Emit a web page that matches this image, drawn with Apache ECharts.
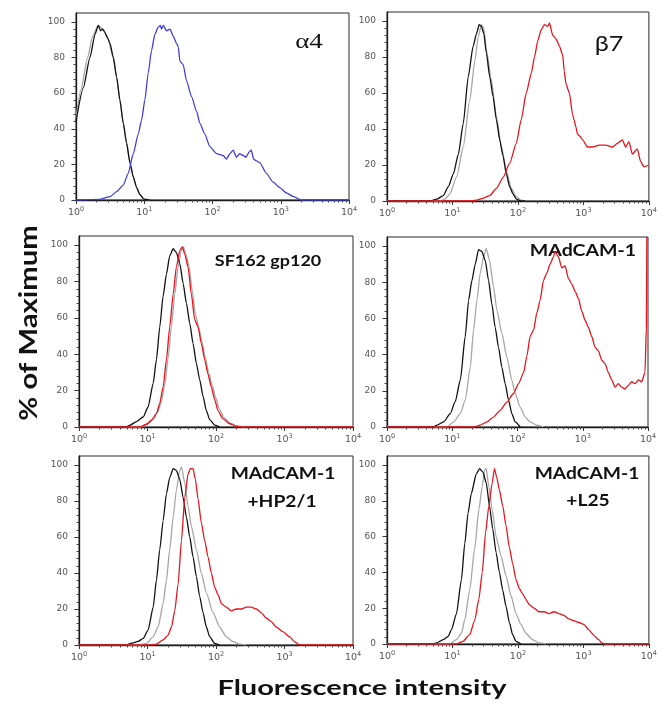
<!DOCTYPE html>
<html>
<head>
<meta charset="utf-8">
<script src="https://cdn.jsdelivr.net/npm/echarts@6/dist/echarts.min.js"></script>
<style>
  html, body { margin: 0; padding: 0; background: #ffffff; }
  #chart { width: 660px; height: 705px; }
</style>
</head>
<body>
<div id="chart"></div>
<script>
// Flow cytometry histograms: fluorescence intensity (log) vs % of maximum.
// Each curve is a list of [intensity, percent of maximum] points.

const decadeTicks = [1, 10, 100, 1000, 10000];
const minorDecadeTicks = [2, 3, 4, 5, 6, 7, 8, 9, 20, 30, 40, 50, 60, 70, 80, 90,
  200, 300, 400, 500, 600, 700, 800, 900, 2000, 3000, 4000, 5000, 6000, 7000, 8000, 9000];
const percentTicks = [0, 20, 40, 60, 80, 100];
const minorPercentTicks = [4, 8, 12, 16, 24, 28, 32, 36, 44, 48, 52, 56, 64, 68, 72, 76, 84, 88, 92, 96];

// alpha4
const a4Grey = [[1,46],[1.18,62],[1.48,80],[1.75,92],[2.12,98],[2.5,96],[2.9,91],[3.52,80],[3.94,69],[4.4,56],[4.93,43],[5.51,32],[6.17,21],[6.9,13],[7.73,7],[8.64,3],[9.9,0.5],[12,0]];
const a4Black = [[1,44],[1.28,63],[1.6,80],[1.9,93],[2.12,98],[2.3,95],[2.45,96],[2.66,94],[2.9,91],[3.15,88],[3.52,80],[3.94,69],[4.4,56],[4.93,43],[5.51,32],[6.17,21],[6.9,13],[7.73,7],[8.64,3],[9.9,0.5],[12,0]];
const a4Blue = [[1,0],[2.25,0.4],[3.15,1.9],[3.94,4.7],[4.93,8.4],[5.83,15],[6.9,26],[8.17,37],[9.14,45],[10.2,56],[11.4,71],[12.8,84],[14.3,93],[16,97],[17.2,98],[17.9,96],[19,98],[21.2,95],[23.8,96],[26.6,92],[29.7,88],[31.5,86],[33.3,78],[37.2,76],[41.6,67],[49.3,58],[58.3,50],[65.3,43],[77.3,37],[91.4,30],[115,26],[143,25],[160,23],[180,26],[201,28],[225,24],[250,26],[281,25],[310,24],[345,27],[370,28],[400,23],[440,22],[493,21],[617,15],[773,10],[967,7],[1210,4],[1515,2],[2006,0],[10000,0]];

// beta7
const b7Grey = [[1,0],[6.5,0],[7.69,1],[9.16,4],[11.6,13.5],[14.6,30],[18.4,56],[22,78],[24.7,91],[27.7,98],[30.1,96],[33,84],[39.4,67],[46.9,47],[55.8,30],[66.5,17],[79.2,7],[94.4,2.4],[112,0.5],[130,0]];
const b7Black = [[1,0],[4.55,0],[5.75,1],[7.26,3],[8.65,8],[10.3,15],[12.3,26],[14.6,43],[17.4,69],[20.7,86],[23.3,93],[25.6,98],[27.7,97],[30.1,93],[33,82],[37.1,69],[41.7,58],[46.9,45],[52.7,34],[59.2,25],[66.5,15],[74.7,8],[84,4],[94.4,1],[112,0],[130,0]];
const b7Red = [[1,0],[18.4,0],[23.3,0.5],[29.4,1.5],[37.1,3],[46.9,7],[59.2,13],[74.7,21],[94.4,32],[112,45],[134,60],[160,71],[179,80],[201,89],[226,95],[254,98],[286,97],[303,99],[340,92],[382,90],[430,86],[483,81],[510,72],[542,65],[610,60],[685,48],[720,45],[769,41],[815,37],[880,36],[971,34],[1157,30],[1378,30],[1740,31],[2197,31],[2774,30],[3305,32],[3936,34],[4425,30],[4968,33],[5586,26],[6653,29],[7470,22],[8400,19],[10000,20]];

// SF162 gp120
const gpGrey = [[1,0],[8,0],[10,1.5],[12,4],[14,8],[16,14],[18,24],[20,38],[22.5,56],[25,73],[28,88],[31,97],[33.5,99],[36.5,95],[40.5,88],[45,75],[50,62],[56,55],[62,47],[70,38],[78,30],[88,23],[99,16],[112,10],[132,5],[165,2],[205,0.5],[260,0]];
const gpBlack = [[1,0],[4.94,0],[5.53,1],[6.92,3],[8.65,5.5],[10.2,11],[12.1,24],[13.5,37],[15.1,55],[16.9,72],[18.9,84],[21.1,94],[23.7,98],[26.4,96],[29.6,90],[33.1,79],[37,68],[41.4,57],[46.2,46],[51.7,35],[57.8,26],[64.7,17],[72.3,9],[80.9,4],[95.7,1],[113,0]];
const gpRed = [[1,0],[7.73,0],[9.67,1.5],[11.4,3.7],[13.5,7.3],[15.1,13],[16.9,22],[18.9,37],[21.1,55],[23.7,73],[26.4,88],[29.6,97],[32.3,99],[35,95],[39.1,88],[43.7,73],[48.9,59],[54.7,55],[61.1,46],[68.4,37],[76.4,29],[85.5,22],[95.7,15],[107,9],[126,4.6],[158,1.8],[198,0.4],[247,0],[10000,0]];

// MAdCAM-1
const madGrey = [[1,0],[8.28,0],[10.5,2.8],[13.3,7.4],[15.8,14.8],[18.9,33],[21.2,53.5],[23.9,70],[26.8,85],[30.2,94],[33.1,98.7],[37.3,92],[42.9,77.5],[48.3,64.6],[57.6,51.7],[68.7,38.7],[81.9,25.8],[92.1,18.5],[110,11],[131,5.5],[156,2.8],[198,1],[250,0]];
const madBlack = [[1,0],[5.18,0],[5.83,1],[7.37,2.8],[9.32,7.4],[11.1,14],[13.3,26],[15.8,50],[17.8,70],[20,81],[22.5,90],[25.3,98],[28.4,97],[32,92],[36,81],[40.5,68],[45.5,55],[51.2,44],[57.6,33],[64.7,24],[72.8,15],[81.9,7.4],[92.1,2.8],[110,0]];
const madRed = [[1,0],[21.2,0],[26.8,1],[33.9,2.8],[42.9,5.5],[54.3,9.2],[68.7,13.8],[86.8,18.5],[104,24],[124,30],[139,39],[156,50],[176,53.5],[198,63],[222,70],[250,81],[281,85],[316,90],[356,94],[377,97],[424,94],[477,88],[537,89],[604,82],[679,79],[764,75],[859,71],[966,64],[1086,59],[1222,55],[1374,50],[1545,44],[1738,42],[1954,37],[2197,35],[2471,30],[2779,26],[3125,22],[3514,24],[3953,22],[4445,21],[4998,23],[5621,25],[6321,24],[7109,26],[7995,25],[8991,30],[9450,55],[9600,105]];

// MAdCAM-1 + HP2/1
const hpGrey = [[1,0],[7.73,0],[9.67,0.9],[12.1,4.6],[14.3,10],[16.9,23],[18.9,36],[21.1,53],[23.7,71],[26.4,86],[29.6,97],[31.3,99],[35,90],[39.1,77],[43.7,66],[51.7,53],[61.1,40],[72.3,29],[90.4,18],[113,10],[141,4.6],[177,1.9],[221,0.5],[277,0]];
const hpBlack = [[1,0],[4.94,0],[5.85,1],[7.31,2],[8.65,3.7],[10.2,8.3],[12.1,21],[13.5,36],[15.1,53],[16.9,69],[18.9,84],[21.1,93],[23.7,98],[26.4,97],[29.6,92],[33.1,82],[37,71],[41.4,60],[46.2,49],[51.7,38],[57.8,27],[64.7,18],[72.3,10],[80.9,4.6],[95.7,0.9],[113,0]];
const hpRed = [[1,0],[10.8,0],[13.5,0.5],[16.9,2.8],[20,5.5],[22.4,10],[25,19],[28,34],[31.3,58],[35,82],[39.1,95],[42.3,98],[46.2,98],[50,92],[54.7,81],[61.1,68],[68.4,58],[76.4,49],[85.5,40],[95.7,32],[107,28],[120,23],[141,21],[167,19],[198,20],[234,20],[277,21],[327,21],[387,20],[457,18],[541,15],[640,13],[756,10],[946,7.4],[1183,4.6],[1399,1.9],[1653,0],[10000,0]];

// MAdCAM-1 + L25
const l25Grey = [[1,0],[9.11,0],[11.5,2.4],[13.7,6],[15.4,13.4],[18.3,30],[21.8,53],[25.3,75],[28.5,88],[30.9,97],[32.8,98],[35.9,88],[40.4,75],[46.4,60],[55.3,49],[65.8,38],[78.3,27],[93.3,17],[111,11],[132,6],[167,2.4],[210,0.6],[266,0]];
const l25Black = [[1,0],[5.09,0],[5.72,0.6],[7.22,2.4],[8.6,4.3],[9.66,8],[11.5,17],[13.7,36],[15.4,56],[17.3,73],[19.4,84],[23.1,95],[26,98],[29.2,96],[32.8,90],[36.8,77],[41.3,64],[46.4,51],[52.1,40],[58.6,30],[65.8,21],[73.9,12],[83,5.2],[93.3,1.5],[111,0]];
const l25Red = [[1,0],[11.5,0],[14.5,1.5],[18.3,5.2],[21.8,13],[25.3,25],[28.5,40],[32,62],[35.9,77],[40.4,90],[43.8,98],[47.5,93],[52.1,86],[58.6,77],[65.8,66],[73.9,54],[83,45],[93.3,36],[105,31],[118,28],[132,25],[149,22],[177,20],[210,18],[251,18],[298,17],[356,18],[423,17],[504,16],[600,14],[714,13],[849,12],[1012,11],[1205,8],[1435,5],[1708,2.4],[1919,0.6],[2154,0],[10000,0]];

const GREY = '#a6a6a6', BLACK = '#111111', RED = '#e8141c', BLUE = '#3f3fdc';

// Panel layout (pixel boxes) and the curves drawn inside each.
const panels = [
  { box: { left: 76,  top: 13,  width: 273, height: 187 }, curves: [[a4Grey, GREY], [a4Black, BLACK], [a4Blue, BLUE]] },
  { box: { left: 387, top: 12,  width: 264, height: 189 }, curves: [[b7Grey, GREY], [b7Black, BLACK], [b7Red, RED]] },
  { box: { left: 79,  top: 236, width: 274, height: 191 }, curves: [[gpGrey, GREY], [gpBlack, BLACK], [gpRed, RED]] },
  { box: { left: 387, top: 237, width: 261, height: 190 }, curves: [[madGrey, GREY], [madBlack, BLACK], [madRed, RED]] },
  { box: { left: 79,  top: 456, width: 274, height: 189 }, curves: [[hpGrey, GREY], [hpBlack, BLACK], [hpRed, RED]] },
  { box: { left: 387, top: 456, width: 264, height: 188 }, curves: [[l25Grey, GREY], [l25Black, BLACK], [l25Red, RED]] }
];

const tickFont = 'DejaVu Sans';
const grid = [], xAxis = [], yAxis = [], series = [];

panels.forEach((p, i) => {
  grid.push(Object.assign({ show: true, borderColor: '#2b2b2b', borderWidth: 1, containLabel: false }, p.box));
  // major decades with labels
  xAxis.push({
    type: 'log', logBase: 10, gridIndex: i, min: 1, max: 10000, position: 'bottom',
    axisLine: { show: true, onZero: false, lineStyle: { color: '#1a1a1a', width: 1.3 } },
    axisTick: { show: true, length: 4, customValues: decadeTicks, lineStyle: { color: '#333' } },
    minorTick: { show: false },
    splitLine: { show: false },
    axisLabel: {
      show: true, margin: 6, customValues: decadeTicks,
      formatter: v => '{b|10}{s|' + Math.round(Math.log10(v)) + '}',
      rich: {
        b: { fontSize: 9.5, fontFamily: tickFont, color: '#555', lineHeight: 13 },
        s: { fontSize: 6.5, fontFamily: tickFont, color: '#555', lineHeight: 7, verticalAlign: 'top' }
      }
    }
  });
  // minor ticks inside each decade
  xAxis.push({
    type: 'log', logBase: 10, gridIndex: i, min: 1, max: 10000, position: 'bottom', offset: 0,
    axisLine: { show: false, onZero: false },
    axisTick: { show: true, length: 2.5, customValues: minorDecadeTicks, lineStyle: { color: '#444' } },
    splitLine: { show: false },
    axisLabel: { show: false }
  });
  yAxis.push({
    type: 'value', gridIndex: i, min: 0, max: 105, position: 'left',
    axisLine: { show: true, onZero: false, lineStyle: { color: '#1a1a1a', width: 1.3 } },
    axisTick: { show: true, length: 4.5, customValues: percentTicks, lineStyle: { color: '#333' } },
    splitLine: { show: false },
    axisLabel: { show: true, margin: 11, customValues: percentTicks, fontSize: 9, fontFamily: tickFont, color: '#555' }
  });
  yAxis.push({
    type: 'value', gridIndex: i, min: 0, max: 105, position: 'left', offset: 0,
    axisLine: { show: false, onZero: false },
    axisTick: { show: true, length: 2.5, customValues: minorPercentTicks, lineStyle: { color: '#444' } },
    splitLine: { show: false },
    axisLabel: { show: false }
  });
  p.curves.forEach(([data, color]) => {
    series.push({
      type: 'line', xAxisIndex: 2 * i, yAxisIndex: 2 * i, data: data,
      showSymbol: false, symbol: 'none', smooth: 0.2, smoothMonotone: 'x',
      lineStyle: { color: color, width: 1.3 }, silent: true, animation: false
    });
  });
});

const boldFont = 'Lato';
function label(text, x, y, size, opts) {
  return Object.assign({
    type: 'text', x: x, y: y, silent: true,
    style: { text: text, fill: '#111', fontSize: size, fontFamily: boldFont, fontWeight: 'bold', align: 'center', verticalAlign: 'middle' }
  }, opts || {});
}

const graphic = [
  { type: 'text', x: 309, y: 43, scaleX: 1.35, silent: true,
    style: { text: 'α4', fill: '#111', fontSize: 20, fontFamily: 'Liberation Serif', align: 'center', verticalAlign: 'middle' } },
  { type: 'text', x: 609, y: 44, scaleX: 1.2, silent: true,
    style: { text: 'β7', fill: '#111', fontSize: 21, fontFamily: 'Lato', align: 'center', verticalAlign: 'middle' } },
  label('SF162 gp120', 268, 261, 16, { scaleX: 1.12 }),
  label('MAdCAM-1', 583, 251, 17, { scaleX: 1.15 }),
  label('MAdCAM-1', 283, 474, 17, { scaleX: 1.13 }),
  label('+HP2/1', 282, 502, 17, { scaleX: 1.13 }),
  label('MAdCAM-1', 587, 474, 17, { scaleX: 1.13 }),
  label('+L25', 588, 501, 17, { scaleX: 1.13 }),
  label('% of Maximum', 29, 323, 25, { rotation: Math.PI / 2, scaleX: 1.17 }),
  label('Fluorescence intensity', 362, 689, 20, { scaleX: 1.45 })
];

const chart = echarts.init(document.getElementById('chart'), null, { renderer: 'canvas' });
chart.setOption({
  animation: false,
  backgroundColor: '#ffffff',
  grid: grid, xAxis: xAxis, yAxis: yAxis, series: series, graphic: graphic
});
</script>
</body>
</html>
